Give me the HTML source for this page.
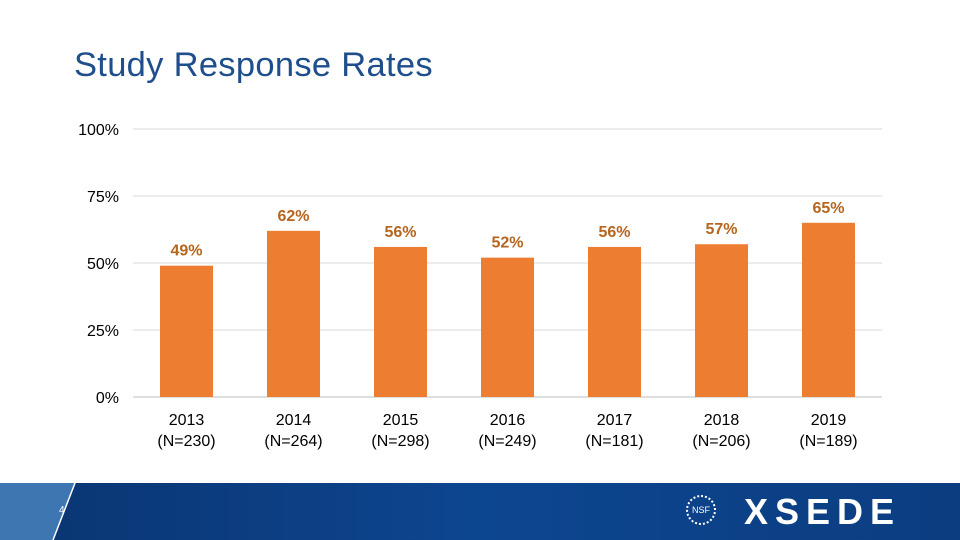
<!DOCTYPE html>
<html><head><meta charset="utf-8"><style>
body{margin:0;width:960px;height:540px;overflow:hidden;background:#fff;font-family:"Liberation Sans",sans-serif;position:relative}
.title{position:absolute;left:74px;top:46px;font-size:34.5px;color:#1f4e8c;letter-spacing:0.3px}
.footer{position:absolute;left:0;top:483px;width:960px;height:57px;background:linear-gradient(90deg,#0a3470,#0d4690 50%,#0b3d80)}
.lp{position:absolute;left:0;top:0;width:80px;height:57px;background:#3d76b0;clip-path:polygon(0 0,75px 0,53px 57px,0 57px)}
.ln{position:absolute;left:0;top:0}
.pg{position:absolute;left:59px;top:22px;color:#fff;font-size:10px}
.xs{position:absolute;left:744px;top:8px;color:#fff;font-size:36px;font-weight:bold;letter-spacing:7px}
.nsf{position:absolute;left:686px;top:12px;width:30px;height:30px;border:2px dotted #fff;border-radius:50%;color:#fff;font-size:9px;text-align:center;line-height:26px;box-sizing:border-box}
</style></head><body>
<div class="title">Study Response Rates</div>
<svg id="c" width="960" height="480" style="position:absolute;left:0;top:0"></svg>
<div class="footer">
<div class="lp"></div>
<svg class="ln" width="100" height="57"><line x1="75" y1="0" x2="53" y2="57" stroke="#fff" stroke-width="1.5"/></svg>
<div class="pg">4</div>
<div class="nsf">NSF</div>
<div class="xs">XSEDE</div>
</div>
<script>
const years=["2013","2014","2015","2016","2017","2018","2019"];
const counts=["(N=230)","(N=264)","(N=298)","(N=249)","(N=181)","(N=206)","(N=189)"];
const values=[49,62,56,52,56,57,65];
const ticks=[0,25,50,75,100];
const svg=document.getElementById('c');const NS='http://www.w3.org/2000/svg';
const x0=133,x1=882,y0=397,y100=129;
const y=v=>y0-(y0-y100)*v/100;
const bw=(x1-x0)/years.length;
function mk(t,a,txt){const e=document.createElementNS(NS,t);for(const k in a)e.setAttribute(k,a[k]);if(txt!=null)e.textContent=txt;svg.appendChild(e);return e;}
ticks.forEach(t=>{
 const g=mk('line',{x1:x0,x2:x1,y1:y(t),y2:y(t),stroke:t==0?'#bfbfbf':'#d9d9d9','stroke-width':1});
 
 
 const l=mk('text',{x:119,y:y(t)+6,'text-anchor':'end','font-size':16,fill:'#000'},t+'%');
 
 
});
values.forEach((v,i)=>{
 const cx=x0+bw*(i+0.5);
 const r=mk('rect',{x:cx-26.5,y:y(v),width:53,height:y0-y(v),fill:'#ED7D31'});
 
 
 const t=mk('text',{x:cx,y:y(v)-10,'text-anchor':'middle','font-size':16,'font-weight':'bold',fill:'#b5651d'},v+'%');
 
 
 const a=mk('text',{x:cx,y:425,'text-anchor':'middle','font-size':16,fill:'#000'},years[i]);
 
 
 const b=mk('text',{x:cx,y:446,'text-anchor':'middle','font-size':16,fill:'#000'},counts[i]);
 
 
});
</script>
</body></html>
